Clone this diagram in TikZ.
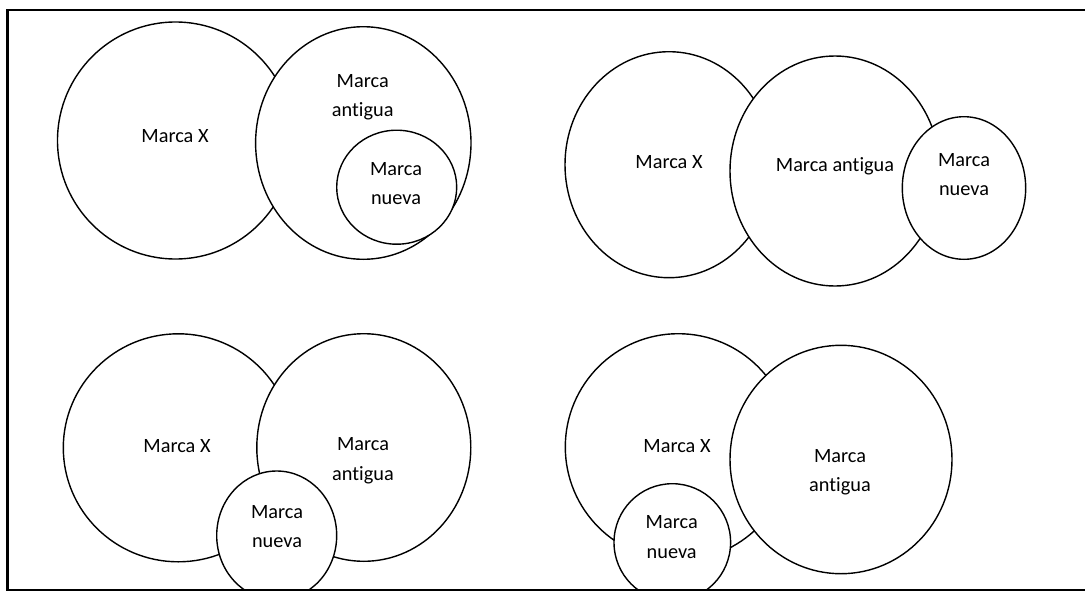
\documentclass[tikz,border=0pt]{standalone}
\usepackage{fontspec}
\setmainfont{Carlito}[Ligatures=NoCommon]
\usetikzlibrary{shapes.geometric}
\tikzset{
  brand/.style n args={2}{ellipse, draw=black, fill=white, line width=1.4pt, inner sep=0pt,
    minimum width=#1pt, minimum height=#2pt},
  lbl/.style={align=center, inner sep=0pt, font=\fontsize{20.3}{29.5}\selectfont},
  frameline/.style={line width=2.2pt}
}
\begin{document}
\begin{tikzpicture}[x=1pt,y=-1pt]
\useasboundingbox (0,0) rectangle (1085,592);
\begin{scope}
\clip (0,0) rectangle (1085,590);
% top left
\node[brand={236}{237}] (tlx) at (175.5,140.5) {};
\node[brand={215.4}{232.6}] (tla) at (363.3,143) {};
\node[brand={120}{114}] (tln) at (396.7,187.2) {};
% top right
\node[brand={208}{226}] (trx) at (669,164.7) {};
\node[brand={210}{230}] (tra) at (835,171) {};
\node[brand={123.4}{142.6}] (trn) at (964,188) {};
% bottom left
\node[brand={230}{228}] (blx) at (178.3,447.8) {};
\node[brand={214}{227.6}] (bla) at (363.8,447.5) {};
\node[brand={120}{129}] (bln) at (276.7,535.5) {};
% bottom right
\node[brand={226}{226.6}] (brx) at (678.3,447) {};
\node[brand={222}{228.4}] (bra) at (841,459.5) {};
\node[brand={116.6}{117.4}] (brn) at (672.3,542.4) {};
\end{scope}
% labels
\node[lbl] (tlxt) at (175,136) {Marca X};
\node[lbl] (tlat) at (362.7,97) {Marca\\antigua};
\node[lbl] (tlnt) at (396,183.5) {Marca\\nueva};
\node[lbl] (trxt) at (669,162) {Marca X};
\node[lbl] (trat) at (835,166) {Marca antigua};
\node[lbl] (trnt) at (964,174.5) {Marca\\nueva};
\node[lbl] (blxt) at (177,446) {Marca X};
\node[lbl] (blat) at (363,460.5) {Marca\\antigua};
\node[lbl] (blnt) at (277,526.5) {Marca\\nueva};
\node[lbl] (brxt) at (677,446) {Marca X};
\node[lbl] (brat) at (840,472) {Marca\\antigua};
\node[lbl] (brnt) at (671.7,537) {Marca\\nueva};
% frame
\coordinate (f1) at (1085,10);
\coordinate (f2) at (7.5,10);
\coordinate (f3) at (7.5,590);
\coordinate (f4) at (1085,590);
\draw[frameline] (f1) -- (f2) -- (f3) -- (f4);
\end{tikzpicture}
\end{document}
